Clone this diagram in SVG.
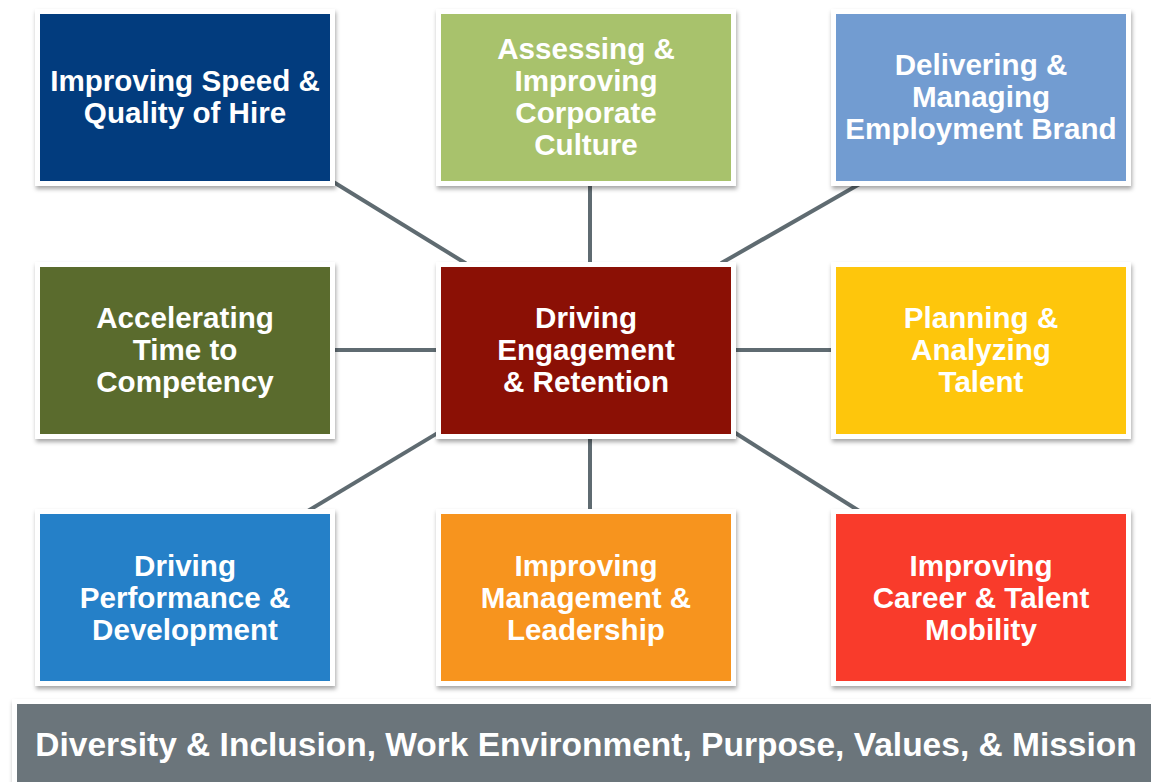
<svg xmlns="http://www.w3.org/2000/svg" width="1151" height="782" viewBox="0 0 1151 782">
<defs>
<filter id="sh" x="-10%" y="-10%" width="120%" height="130%">
<feDropShadow dx="1" dy="3" stdDeviation="2" flood-color="#000" flood-opacity="0.35"/>
</filter>
<style>
.frame{fill:#fff;filter:url(#sh)}
.t{font-family:"Liberation Sans",Arial,sans-serif;font-weight:bold;font-size:29.6px;fill:#fff;text-anchor:middle}
.c{stroke:#5f6b71;stroke-width:4;fill:none}
</style>
</defs>
<rect width="1151" height="782" fill="#fff"/>
<g id="connectors">
<line class="c" x1="331" y1="180.5" x2="466" y2="263.5"/>
<line class="c" x1="590" y1="180" x2="590" y2="266"/>
<line class="c" x1="860" y1="183.7" x2="721" y2="263.3"/>
<line class="c" x1="330" y1="350" x2="441" y2="350"/>
<line class="c" x1="731" y1="350" x2="836" y2="350"/>
<line class="c" x1="307" y1="511.4" x2="440" y2="431.6"/>
<line class="c" x1="590" y1="433" x2="590" y2="514"/>
<line class="c" x1="733" y1="431.5" x2="860" y2="511.5"/>
</g>
<g id="n1"><rect class="frame" x="35" y="9" width="300" height="177"/><rect x="40" y="14" width="290" height="167" fill="#023c7e"/>
<text class="t" x="185" y="91">Improving Speed &amp;</text><text class="t" x="185" y="123">Quality of Hire</text></g>
<g id="n2"><rect class="frame" x="436" y="9" width="300" height="177"/><rect x="441" y="14" width="290" height="167" fill="#a8c26c"/>
<text class="t" x="586" y="59">Assessing &amp;</text><text class="t" x="586" y="91">Improving</text><text class="t" x="586" y="123">Corporate</text><text class="t" x="586" y="155">Culture</text></g>
<g id="n3"><rect class="frame" x="831" y="9" width="300" height="177"/><rect x="836" y="14" width="290" height="167" fill="#729cd1"/>
<text class="t" x="981" y="75">Delivering &amp;</text><text class="t" x="981" y="107">Managing</text><text class="t" x="981" y="139">Employment Brand</text></g>
<g id="n4"><rect class="frame" x="35" y="262" width="300" height="177"/><rect x="40" y="267" width="290" height="167" fill="#5a6b2d"/>
<text class="t" x="185" y="328">Accelerating</text><text class="t" x="185" y="360">Time to</text><text class="t" x="185" y="392">Competency</text></g>
<g id="n5"><rect class="frame" x="436" y="262" width="300" height="177"/><rect x="441" y="267" width="290" height="167" fill="#8b1005"/>
<text class="t" x="586" y="328">Driving</text><text class="t" x="586" y="360">Engagement</text><text class="t" x="586" y="392">&amp; Retention</text></g>
<g id="n6"><rect class="frame" x="831" y="262" width="300" height="177"/><rect x="836" y="267" width="290" height="167" fill="#fec60c"/>
<text class="t" x="981" y="328">Planning &amp;</text><text class="t" x="981" y="360">Analyzing</text><text class="t" x="981" y="392">Talent</text></g>
<g id="n7"><rect class="frame" x="35" y="509" width="300" height="177"/><rect x="40" y="514" width="290" height="167" fill="#2580c8"/>
<text class="t" x="185" y="576">Driving</text><text class="t" x="185" y="608">Performance &amp;</text><text class="t" x="185" y="640">Development</text></g>
<g id="n8"><rect class="frame" x="436" y="509" width="300" height="177"/><rect x="441" y="514" width="290" height="167" fill="#f7941e"/>
<text class="t" x="586" y="576">Improving</text><text class="t" x="586" y="608">Management &amp;</text><text class="t" x="586" y="640">Leadership</text></g>
<g id="n9"><rect class="frame" x="831" y="509" width="300" height="177"/><rect x="836" y="514" width="290" height="167" fill="#f93b2b"/>
<text class="t" x="981" y="576">Improving</text><text class="t" x="981" y="608">Career &amp; Talent</text><text class="t" x="981" y="640">Mobility</text></g>
<g id="base"><rect class="frame" x="12" y="699" width="1150" height="100"/><rect x="17" y="704" width="1140" height="90" fill="#6b757b"/>
<text class="t" x="586" y="756" style="font-size:33.5px">Diversity &amp; Inclusion, Work Environment, Purpose, Values, &amp; Mission</text></g>
</svg>
